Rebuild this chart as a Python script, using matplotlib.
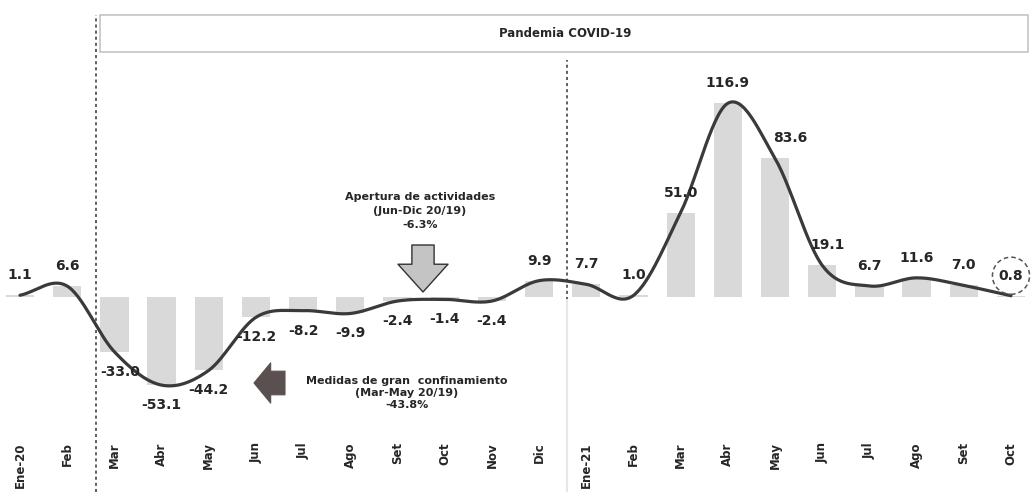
import numpy as np
import matplotlib
matplotlib.use("Agg")
import matplotlib.pyplot as plt
from matplotlib.patches import Rectangle

# ---------------- data ----------------
months = ["Ene-20", "Feb", "Mar", "Abr", "May", "Jun", "Jul", "Ago", "Set", "Oct", "Nov", "Dic",
          "Ene-21", "Feb", "Mar", "Abr", "May", "Jun", "Jul", "Ago", "Set", "Oct"]
values = [1.1, 6.6, -33.0, -53.1, -44.2, -12.2, -8.2, -9.9, -2.4, -1.4, -2.4, 9.9,
          7.7, 1.0, 51.0, 116.9, 83.6, 19.1, 6.7, 11.6, 7.0, 0.8]
title_box_text = "Pandemia COVID-19"
note_open = "Apertura de actividades\n(Jun-Dic 20/19)\n-6.3%"
note_lock = "Medidas de gran  confinamiento\n(Mar-May 20/19)\n-43.8%"

# ---------------- figure ----------------
W, H = 1032, 492
fig = plt.figure(figsize=(W / 100, H / 100), dpi=100)
ax = fig.add_axes([0, 54 / H, 1, 383 / H])
x = np.arange(len(values))
vals = np.array(values)

ax.bar(x, vals, width=0.6, color="#d9d9d9", zorder=1)

# smoothed line (Catmull-Rom through the data points)
def catmull_rom(xs, ys, n=30):
    px = np.concatenate([[2 * xs[0] - xs[1]], xs, [2 * xs[-1] - xs[-2]]])
    py = np.concatenate([[2 * ys[0] - ys[1]], ys, [2 * ys[-1] - ys[-2]]])
    out_x, out_y = [], []
    t = np.linspace(0, 1, n, endpoint=False)
    for i in range(1, len(px) - 2):
        for arr, out in ((px, out_x), (py, out_y)):
            p0, p1, p2, p3 = arr[i - 1], arr[i], arr[i + 1], arr[i + 2]
            out.extend(0.5 * ((2 * p1) + (-p0 + p2) * t + (2 * p0 - 5 * p1 + 4 * p2 - p3) * t ** 2
                              + (-p0 + 3 * p1 - 3 * p2 + p3) * t ** 3))
    out_x.append(xs[-1]); out_y.append(ys[-1])
    return np.array(out_x), np.array(out_y)

sx, sy = catmull_rom(x.astype(float), vals)
ax.plot(sx, sy, color="#3a3a3a", lw=2.3, zorder=3, solid_capstyle="round")

# data labels
for i, v in enumerate(values):
    dy = 14.4 if v >= 0 else -14.4
    dx = 0
    if i == 16:
        dx = 11
    elif i in (2, 17):
        dx = 4
    kw = {}
    if i == len(values) - 1:
        kw["bbox"] = dict(boxstyle="circle,pad=0.45", fc="none", ec="#555555", ls=(0, (3, 2)), lw=1.1)
    ax.annotate(f"{v:.1f}", (i, v), xytext=(dx, dy), textcoords="offset points",
                ha="center", va="center", fontsize=10, fontweight="bold", color="#262626",
                zorder=5, **kw)

ax.set_xlim(-0.424, 21.445)
ax.set_ylim(-85, 146)
ax.set_xticks(x)
ax.set_xticklabels(months, rotation=90, fontsize=8.5, fontweight="bold", color="#262626")
ax.tick_params(axis="x", length=0, pad=3)
ax.set_yticks([])
for s in ax.spines.values():
    s.set_visible(False)

# vertical separators
ax.axvline(1.6, ymin=-0.141, ymax=1.104, clip_on=False, color="#333333", lw=1.1, ls=(0, (2, 2)))
ax.axvline(11.6, ymin=0.36, ymax=0.987, clip_on=False, color="#333333", lw=1.1, ls=(0, (2, 2)))
ax.axvline(11.6, ymin=-0.14, ymax=0.36, clip_on=False, color="#e6e6e6", lw=1.5)

# title box
fig.patches.append(Rectangle((100 / W, 1 - 52 / H), 928 / W, 37 / H, transform=fig.transFigure,
                             fc="white", ec="#c8c8c8", lw=1.3))
fig.text(565 / W, 1 - 33 / H, title_box_text, ha="center", va="center",
         fontsize=8.5, fontweight="bold", color="#262626")

# notes
fig.text(420 / W, 1 - 211 / H, note_open, ha="center", va="center", fontsize=8,
         fontweight="bold", color="#262626", linespacing=1.55)
fig.text(407 / W, 1 - 393 / H, note_lock, ha="center", va="center", fontsize=8,
         fontweight="bold", color="#262626", linespacing=1.3)

# arrows
ax.annotate("", xy=(423, H - 292), xytext=(423, H - 245), xycoords="figure pixels",
            arrowprops=dict(arrowstyle="simple,head_width=36,head_length=20,tail_width=16",
                            mutation_scale=1, fc="#c4c4c4", ec="#333333", lw=1.0,
                            shrinkA=0, shrinkB=0))
ax.annotate("", xy=(254, H - 383), xytext=(285, H - 383), xycoords="figure pixels",
            arrowprops=dict(arrowstyle="simple,head_width=29,head_length=12,tail_width=17",
                            mutation_scale=1, fc="#5a5050", ec="#5a5050", lw=0.8,
                            shrinkA=0, shrinkB=0))

fig.savefig("out.png", dpi=100)
